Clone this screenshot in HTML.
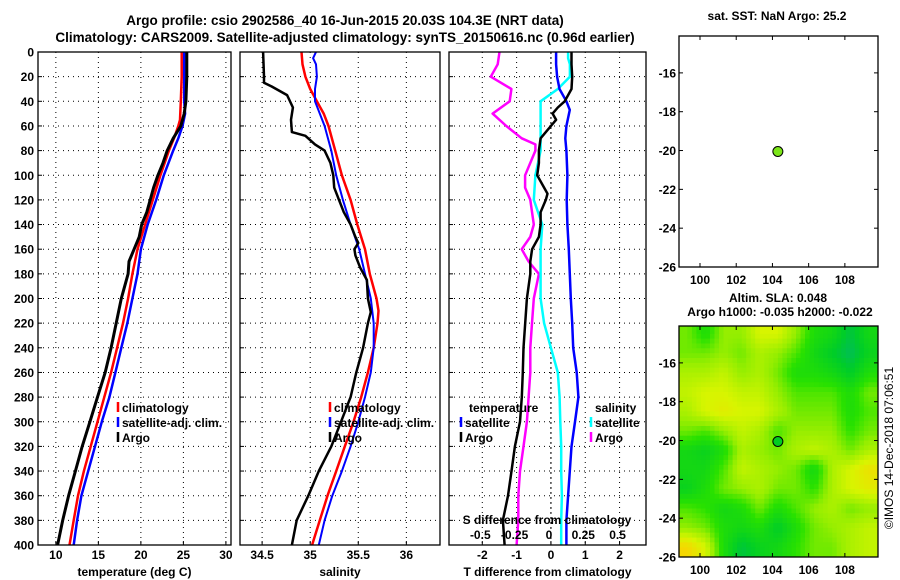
<!DOCTYPE html>
<html><head><meta charset="utf-8"><style>
body{margin:0;background:#fff;}
svg{display:block;font-family:"Liberation Sans",Arial,sans-serif;font-weight:bold;}
</style></head><body>
<svg id="c" width="900" height="580" viewBox="0 0 900 580" xmlns="http://www.w3.org/2000/svg">
<rect width="900" height="580" fill="#fff"/>
<text x="345" y="25" font-size="13.5" text-anchor="middle">Argo profile: csio 2902586_40 16-Jun-2015 20.03S 104.3E (NRT data)</text>
<text x="345" y="42" font-size="13.5" text-anchor="middle">Climatology: CARS2009. Satellite-adjusted climatology: synTS_20150616.nc (0.96d earlier)</text>
<g id="g"></g>
</svg>
<script>
// ---- data ----
const depthTicks=[0,20,40,60,80,100,120,140,160,180,200,220,240,260,280,300,320,340,360,380,400];
const tempTicks=[10,15,20,25,30];
const salTicks=[34.5,35,35.5,36];
const salTickLabels=["34.5","35","35.5","36"];
const dtTicks=[-2,-1,0,1,2];
const dsTicks=[-0.5,-0.25,0,0.25,0.5];
const dsTickLabels=["-0.5","-0.25","0","0.25","0.5"];
const lonTicks=[100,102,104,106,108];
const latTicks=[-16,-18,-20,-22,-24,-26];

const argoTz=[0,20,40,50,60,70,80,90,100,110,120,130,140,150,160,170,180,190,200,220,240,260,280,300,320,340,360,380,400];
const argoT=[25.4,25.4,25.3,25.1,24.7,23.8,23.1,22.6,22.0,21.5,21.1,20.7,20.1,19.8,19.2,18.6,18.5,18.1,17.7,17.1,16.5,15.8,14.9,14.0,13.1,12.3,11.5,10.8,10.2];
const climTz=[0,20,40,55,60,70,80,100,120,140,160,180,200,220,240,260,280,300,320,340,360,380,400];
const climT=[24.8,24.8,24.7,24.6,24.4,23.9,23.3,22.3,21.4,20.5,19.6,19.0,18.5,17.9,17.2,16.5,15.7,14.9,14.1,13.3,12.6,12.1,11.6];
const satTz=[0,20,40,50,60,70,80,100,120,140,160,180,200,220,240,260,280,300,320,340,360,380,400];
const satT=[25.1,25.1,25.1,25.2,24.9,24.4,23.8,22.7,21.8,20.8,20.0,19.6,19.0,18.4,17.7,17.0,16.3,15.4,14.6,13.8,13.0,12.5,12.1];

const argoSz=[0,20,25,28,35,45,55,65,68,75,80,90,100,110,120,130,140,150,155,160,165,175,185,200,211,220,240,260,280,300,320,340,360,380,400];
const argoS=[34.51,34.52,34.52,34.6,34.76,34.82,34.8,34.81,34.95,35.05,35.15,35.21,35.24,35.25,35.3,35.35,35.42,35.47,35.5,35.46,35.47,35.52,35.59,35.6,35.63,35.6,35.55,35.48,35.42,35.32,35.22,35.09,34.98,34.86,34.81];
const climSz=[0,10,20,30,40,50,60,80,100,120,140,160,180,200,210,220,240,260,280,300,320,340,360,380,400];
const climS=[34.91,34.92,34.95,35.0,35.07,35.14,35.19,35.26,35.33,35.42,35.49,35.57,35.62,35.69,35.71,35.7,35.66,35.6,35.53,35.45,35.36,35.27,35.18,35.1,35.02];
const satSz=[0,5,10,20,30,40,50,60,80,100,120,140,160,180,200,220,240,260,280,300,320,340,360,380,400];
const satS=[35.06,35.03,35.06,35.07,35.05,35.05,35.1,35.15,35.22,35.27,35.34,35.42,35.51,35.57,35.63,35.66,35.66,35.63,35.57,35.5,35.42,35.33,35.23,35.15,35.09];

const dArgoTz=[0,10,20,30,40,45,50,55,60,70,80,90,100,110,115,120,130,140,150,160,170,180,190,200,220,240,260,280,300,320,340,360,380,400];
const dArgoT=[0.6,0.6,0.62,0.6,0.4,0.2,0.05,0.15,0.0,-0.3,-0.35,-0.35,-0.4,-0.2,-0.1,-0.15,-0.3,-0.3,-0.35,-0.55,-0.6,-0.6,-0.65,-0.7,-0.75,-0.8,-0.82,-0.85,-0.9,-1.05,-1.15,-1.25,-1.4,-1.35];
const dSatTz=[0,10,20,30,40,47,60,70,80,100,120,140,160,180,200,220,240,260,280,300,320,340,360,380,400];
const dSatT=[0.15,0.15,0.18,0.25,0.45,0.55,0.45,0.42,0.45,0.48,0.46,0.48,0.52,0.55,0.58,0.62,0.65,0.75,0.8,0.7,0.6,0.55,0.5,0.45,0.45];
const dSatSz=[0,5,10,20,30,40,50,60,80,100,120,140,160,180,200,220,240,260,280,300,320,340,360,380,400];
const dSatS=[0.125,0.125,0.138,0.138,0.05,-0.075,-0.075,-0.075,-0.075,-0.113,-0.125,-0.063,-0.075,-0.075,-0.075,-0.05,0.0,0.05,0.063,0.068,0.075,0.075,0.08,0.075,0.075];
const dArgoSz=[0,10,20,30,40,50,60,70,75,80,90,100,110,120,140,150,160,170,180,200,220,240,260,280,300,320,340,360,380,400];
const dArgoS=[-0.375,-0.388,-0.438,-0.288,-0.3,-0.425,-0.325,-0.213,-0.113,-0.113,-0.15,-0.188,-0.188,-0.15,-0.125,-0.15,-0.213,-0.163,-0.088,-0.125,-0.138,-0.15,-0.15,-0.163,-0.175,-0.2,-0.225,-0.238,-0.238,-0.25];

const argoLon=104.3, argoLat=-20.05;
const slaGrid=[
[.5,.35,.55,.55,.7,.7,.55,.35,.3,.15,.3],
[.5,.5,.55,.5,.6,.55,.45,.3,.2,.1,.25],
[.6,.6,.65,.55,.6,.5,.35,.35,.3,.2,.35],
[.65,.7,.7,.65,.65,.55,.45,.45,.45,.35,.5],
[.6,.7,.75,.7,.7,.6,.5,.5,.5,.35,.45],
[.5,.45,.55,.65,.6,.45,.55,.55,.55,.4,.5],
[.3,.25,.35,.6,.55,.5,.6,.65,.6,.5,.6],
[.3,.3,.45,.65,.6,.55,.5,.3,.6,.7,.8],
[.25,.35,.5,.55,.6,.5,.5,.4,.6,.7,.75],
[.45,.4,.3,.35,.5,.35,.45,.55,.6,.5,.55],
[.55,.5,.35,.3,.35,.2,.35,.5,.55,.6,.65],
[.85,.7,.35,.15,.25,.3,.4,.5,.5,.6,.65]];
const slaLon0=99, slaLat0=-14;

// ---- drawing ----
const NS="http://www.w3.org/2000/svg";
const G=document.getElementById('g');
function el(t,a,p){const e=document.createElementNS(NS,t);for(const k in a)e.setAttribute(k,a[k]);(p||G).appendChild(e);return e;}
function txt(x,y,s,sz,anc,p){const e=el('text',{x:x,y:y,'font-size':sz,'text-anchor':anc||'middle'},p);e.textContent=s;return e;}
const Y0=52,Y1=545;
const dy=d=>Y0+d/400*(Y1-Y0);
function lin(d0,d1,r0,r1){return v=>r0+(v-d0)/(d1-d0)*(r1-r0);}

function panel(name,x0,x1,xs,ticks,labels,xlabel,showDepth){
  const g=el('g',{});
  
  
  depthTicks.forEach(d=>{if(d>0&&d<400){const l=el('line',{x1:x0,x2:x1,y1:dy(d),y2:dy(d),stroke:'#000','stroke-width':1,'stroke-dasharray':'1,4'},g);}
    el('line',{x1:x0,x2:x0+4,y1:dy(d),y2:dy(d),stroke:'#000'},g);
    if(showDepth){const t=txt(x0-4,dy(d)+4.5,String(d),12,'end',g);}});
  ticks.forEach((v,i)=>{const x=xs(v);el('line',{x1:x,x2:x,y1:Y0,y2:Y1,stroke:'#000','stroke-width':1,'stroke-dasharray':'1,4'},g);
    el('line',{x1:x,x2:x,y1:Y1,y2:Y1-4,stroke:'#000'},g);
    const t=txt(x,559,labels[i],12,'middle',g);});
  const xl=txt((x0+x1)/2,576,xlabel,12,'middle',g);
  
  
  const cp=el('clipPath',{id:'cp'+name},g);el('rect',{x:x0,y:Y0,width:x1-x0,height:Y1-Y0},cp);
  return g;
}
function series(g,name,xs,zs,vs,col,w,clip){
  const pts=zs.map((z,i)=>xs(vs[i]).toFixed(1)+','+dy(z).toFixed(1)).join(' ');
  const p=el('polyline',{points:pts,fill:'none',stroke:col,'stroke-width':w,'stroke-linejoin':'round','clip-path':'url(#cp'+clip+')'},g);
  
  
}
function frame(g,x0,x1){el('rect',{x:x0,y:Y0,width:x1-x0,height:Y1-Y0,fill:'none',stroke:'#000','stroke-width':1.3},g);}
function legEntry(g,x,y,col,label){el('line',{x1:x,x2:x,y1:y-10,y2:y,stroke:col,'stroke-width':2.5},g);const t=txt(x+4,y,label,12,'start',g);}

// Temperature
const xT=lin(7.9,30.6,38,231);
let g1=panel('temperature-panel',38,231,xT,tempTicks,tempTicks.map(String),'temperature (deg C)',true);
series(g1,'climatology-temperature-line',xT,climTz,climT,'#f00',2.5,'temperature-panel');
series(g1,'satellite-temperature-line',xT,satTz,satT,'#00f',2.5,'temperature-panel');
series(g1,'argo-temperature-line',xT,argoTz,argoT,'#000',3,'temperature-panel');
frame(g1,38,231);
legEntry(g1,118,412,'#f00','climatology');legEntry(g1,118,427,'#00f','satellite-adj. clim.');legEntry(g1,118,442,'#000','Argo');

// Salinity
const xS=lin(34.27,36.35,240,440);
let g2=panel('salinity-panel',240,440,xS,salTicks,salTickLabels,'salinity',false);
series(g2,'climatology-salinity-line',xS,climSz,climS,'#f00',2.5,'salinity-panel');
series(g2,'satellite-salinity-line',xS,satSz,satS,'#00f',2,'salinity-panel');
series(g2,'argo-salinity-line',xS,argoSz,argoS,'#000',2.5,'salinity-panel');
frame(g2,240,440);
legEntry(g2,330,412,'#f00','climatology');legEntry(g2,330,427,'#00f','satellite-adj. clim.');legEntry(g2,330,442,'#000','Argo');

// Differences
const xD=lin(-2.97,2.77,449,646);
const xDS=v=>xD(v*4);
let g3=panel('difference-panel',449,646,xD,dtTicks,dtTicks.map(String),'T difference from climatology',false);
el('line',{x1:xD(0),x2:xD(0),y1:Y0,y2:Y1,stroke:'#000','stroke-dasharray':'2,3'},g3);
series(g3,'argo-salinity-diff-line',xDS,dArgoSz,dArgoS,'#f0f',2.5,'difference-panel');
series(g3,'satellite-salinity-diff-line',xDS,dSatSz,dSatS,'#0ff',2.5,'difference-panel');
series(g3,'satellite-temperature-diff-line',xD,dSatTz,dSatT,'#00f',2.5,'difference-panel');
series(g3,'argo-temperature-diff-line',xD,dArgoTz,dArgoT,'#000',2.5,'difference-panel');
frame(g3,449,646);
txt(469,412,'temperature',12,'start',g3);
legEntry(g3,461,427,'#00f','satellite');legEntry(g3,461,442,'#000','Argo');
txt(595,412,'salinity',12,'start',g3);
legEntry(g3,591,427,'#0ff','satellite');legEntry(g3,591,442,'#f0f','Argo');
const sdt=txt(547,524,'S difference from climatology',12,'middle',g3);


dsTicks.forEach((v,i)=>{const t=txt(xDS(v)-2,539,dsTickLabels[i],12,'middle',g3);});

// Maps
const MX0=679,MX1=878;
const mx=lin(98.84,109.83,MX0,MX1);
function mapAxes(g,y0,y1){
  const my=lin(-14.1,-26,y0,y1);
  lonTicks.forEach(v=>{el('line',{x1:mx(v),x2:mx(v),y1:y0,y2:y0+4,stroke:'#000'},g);el('line',{x1:mx(v),x2:mx(v),y1:y1,y2:y1-4,stroke:'#000'},g);
    const t=txt(mx(v),y1+17,String(v),12,'middle',g);});
  latTicks.forEach(v=>{el('line',{x1:MX0,x2:MX0+4,y1:my(v),y2:my(v),stroke:'#000'},g);el('line',{x1:MX1,x2:MX1-4,y1:my(v),y2:my(v),stroke:'#000'},g);
    const t=txt(MX0-3,my(v)+4.5,String(v),12,'end',g);});
  return my;
}
let g4=el('g',{});


txt(777,20,'sat. SST: NaN Argo: 25.2',12,'middle',g4);
const my1=mapAxes(g4,36,267);
el('rect',{x:MX0,y:36,width:MX1-MX0,height:231,fill:'none',stroke:'#000','stroke-width':1.3},g4);
const d1=el('circle',{cx:mx(argoLon),cy:my1(argoLat),r:5,fill:'#7ce619',stroke:'#000'},g4);



let g5=el('g',{});


txt(778,302,'Altim. SLA: 0.048',12,'middle',g5);
txt(780,316,'Argo h1000: -0.035 h2000: -0.022',12,'middle',g5);
const my2=lin(-14.1,-26,326,557);
const cp2=el('clipPath',{id:'cpsla'},g5);el('rect',{x:MX0,y:326,width:MX1-MX0,height:231},cp2);
const hm=el('g',{'clip-path':'url(#cpsla)'},g5);
function cmap(v){const stops=[[0,[0,175,130]],[0.2,[0,205,40]],[0.4,[40,225,0]],[0.55,[150,238,0]],[0.7,[215,245,0]],[0.85,[245,215,0]],[1,[250,185,0]]];
  v=Math.max(0,Math.min(1,v));
  for(let i=1;i<stops.length;i++){if(v<=stops[i][0]){const a=stops[i-1],b=stops[i],t=(v-a[0])/(b[0]-a[0]);return 'rgb('+a[1].map((c,k)=>Math.round(c+(b[1][k]-c)*t)).join(',')+')';}}return 'rgb(250,185,0)';}
const NR=slaGrid.length,NC=slaGrid[0].length,SUB=4;
function sample(r,c){ // r,c in cell-center coordinates
  r=Math.max(0,Math.min(NR-1,r));c=Math.max(0,Math.min(NC-1,c));
  const r0=Math.floor(r),c0=Math.floor(c),r1=Math.min(NR-1,r0+1),c1=Math.min(NC-1,c0+1),fr=r-r0,fc=c-c0;
  return slaGrid[r0][c0]*(1-fr)*(1-fc)+slaGrid[r0][c1]*(1-fr)*fc+slaGrid[r1][c0]*fr*(1-fc)+slaGrid[r1][c1]*fr*fc;
}
for(let i=0;i<NR*SUB;i++){for(let j=0;j<NC*SUB;j++){
  const r=(i+0.5)/SUB-0.5,c=(j+0.5)/SUB-0.5;
  const lon=slaLon0+j/SUB-0.2,lat=slaLat0-i/SUB;
  const x=mx(lon),y=my2(lat);
  const cell=el('rect',{x:x.toFixed(1),y:y.toFixed(1),width:(mx(lon+1/SUB)-x+0.6).toFixed(1),height:(my2(lat-1/SUB)-y+0.6).toFixed(1),fill:cmap(sample(r,c))},hm);
  
  
}}
mapAxes(g5,326,557);
el('rect',{x:MX0,y:326,width:MX1-MX0,height:231,fill:'none',stroke:'#000','stroke-width':1.3},g5);
const d2=el('circle',{cx:mx(argoLon),cy:my2(argoLat),r:5,fill:'#00cc22',stroke:'#000'},g5);


const cr=txt(0,0,'\u00a9IMOS 14-Dec-2018 07:06:51',12,'middle');
cr.setAttribute('transform','translate(893,448) rotate(-90)');
cr.setAttribute('font-weight','normal');


</script>
</body></html>
